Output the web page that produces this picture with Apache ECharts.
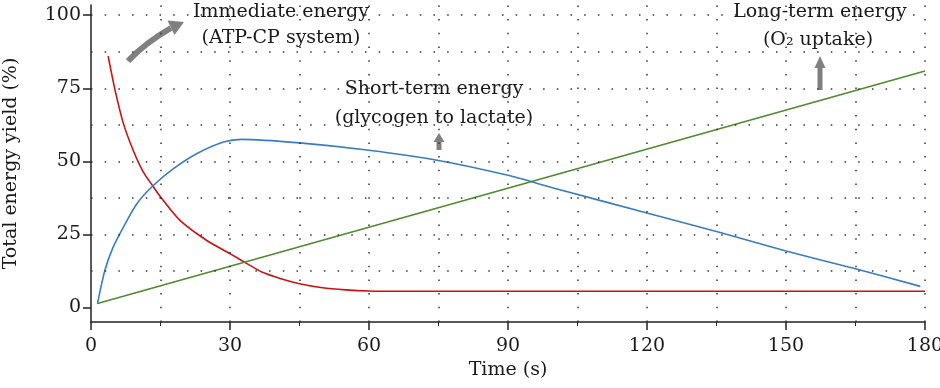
<!DOCTYPE html>
<html>
<head>
<meta charset="utf-8">
<script src="https://cdn.jsdelivr.net/npm/echarts@6/dist/echarts.min.js"></script>
<style>
html,body{margin:0;padding:0;background:#fff;}
#chart{width:940px;height:388px;}
</style>
</head>
<body>
<div id="chart"></div>
<script>
// ---- data ----
const xTicks = [0, 30, 60, 90, 120, 150, 180];
const yTicks = [0, 25, 50, 75, 100];
const gridX = [15, 30, 45, 60, 75, 90, 105, 120, 135, 150, 165, 180];
const gridY = [12.5, 25, 37.5, 50, 62.5, 75, 87.5, 100];

const timeImmediate = [3.7, 5.2, 7, 9.1, 11.3, 13.5, 15.3, 19.2, 25, 30, 34.3, 37, 41, 45, 50, 55, 60, 66, 80, 120, 180];
const energyImmediate = [86, 74.3, 62.9, 53.8, 46.3, 41.2, 37.2, 29.8, 22.9, 18.4, 14.4, 12, 9.8, 8.1, 6.7, 6.0, 5.6, 5.5, 5.5, 5.5, 5.5];

const timeShort = [1.4, 3, 4.8, 7, 9.9, 13.5, 17.8, 22.8, 28.6, 32.5, 45, 60, 75, 90, 100, 120, 135, 150, 165, 179];
const energyShort = [1.3, 12.7, 20.7, 27.5, 35.5, 41.8, 47.5, 52.6, 56.6, 57.5, 56.3, 53.8, 50.3, 45.2, 40.8, 32.3, 26, 19.3, 13.2, 7.2];

const timeLong = [1.4, 180];
const energyLong = [1.3, 80.9];

const labelsImmediate = ['Immediate energy', '(ATP-CP system)'];
const labelsShort = ['Short-term energy', '(glycogen to lactate)'];
const labelsLong = ['Long-term energy', '(O\u2082 uptake)'];

// ---- chart ----
const FONT = 'DejaVu Serif';
const TXT = '#1a1a1a';
const pair = (xs, ys) => xs.map((x, i) => [x, ys[i]]);

const chart = echarts.init(document.getElementById('chart'), null, {renderer: 'canvas'});

const dotStyle = {color: '#333', width: 1.5, type: [1.5, 12.2], opacity: 1};

function textEl(x, y, t) {
  return {type: 'text', x: x, y: y, silent: true,
    style: {text: t, fill: TXT, font: '19px "' + FONT + '"', textAlign: 'center', textVerticalAlign: 'middle'}};
}

const option = {
  animation: false,
  backgroundColor: '#fff',
  grid: {left: 91, right: 15, top: 5, bottom: 66, containLabel: false, outerBoundsMode: 'none'},
  xAxis: {
    type: 'value', min: 0, max: 180, interval: 30,
    name: 'Time (s)', nameLocation: 'middle', nameGap: 39,
    nameTextStyle: {fontFamily: FONT, fontSize: 19, color: TXT},
    axisLine: {show: true, onZero: false, lineStyle: {color: '#222', width: 1.5}},
    axisTick: {show: true, length: 8, lineStyle: {color: '#222', width: 1.5}},
    minorTick: {show: true, splitNumber: 2, length: 4, lineStyle: {color: '#222', width: 1}},
    axisLabel: {fontFamily: FONT, fontSize: 19, color: TXT, margin: 15, customValues: xTicks},
    splitLine: {show: false}
  },
  yAxis: {
    type: 'value', min: -5, max: 103.5,
    name: 'Total energy yield (%)', nameLocation: 'middle', nameGap: 70,
    nameTextStyle: {fontFamily: FONT, fontSize: 19, color: TXT},
    axisLine: {show: true, onZero: false, lineStyle: {color: '#222', width: 1.5}},
    axisTick: {show: true, length: 8, customValues: yTicks, lineStyle: {color: '#222', width: 1.5}},
    axisLabel: {fontFamily: FONT, fontSize: 19, color: TXT, margin: 10, customValues: yTicks},
    splitLine: {show: false}
  },
  series: [
    {
      type: 'line', name: 'grid', data: [], silent: true, z: 1,
      markLine: {
        silent: true, symbol: ['none', 'none'], label: {show: false}, animation: false,
        lineStyle: dotStyle,
        data: gridX.map(v => ({xAxis: v})).concat(gridY.map(v => ({yAxis: v})))
      }
    },
    {
      type: 'line', name: 'Immediate', data: pair(timeImmediate, energyImmediate),
      showSymbol: false, smooth: 0.25, z: 3,
      lineStyle: {color: '#cc1111', width: 1.6}
    },
    {
      type: 'line', name: 'Short', data: pair(timeShort, energyShort),
      showSymbol: false, smooth: 0.25, z: 3,
      lineStyle: {color: '#3a7cc2', width: 1.6}
    },
    {
      type: 'line', name: 'Long', data: pair(timeLong, energyLong),
      showSymbol: false, z: 3,
      lineStyle: {color: '#4f8a2e', width: 1.6}
    }
  ],
  graphic: [
    textEl(281, 12, labelsImmediate[0]),
    textEl(281, 38, labelsImmediate[1]),
    textEl(434, 89, labelsShort[0]),
    textEl(434, 118, labelsShort[1]),
    textEl(820, 12, labelsLong[0]),
    textEl(818, 40, labelsLong[1]),
    // curved arrow (immediate energy)
    {type: 'bezierCurve', silent: true,
      shape: {x1: 128, y1: 61, cpx1: 145, cpy1: 43, x2: 171, y2: 28},
      style: {stroke: '#808080', lineWidth: 6, fill: null}},
    {type: 'polygon', silent: true,
      shape: {points: [[184, 22], [174.5, 35], [167.5, 20.5]]},
      style: {fill: '#808080'}},
    // short-term arrow
    {type: 'rect', silent: true, shape: {x: 436.5, y: 141, width: 5, height: 9}, style: {fill: '#808080'}},
    {type: 'polygon', silent: true, shape: {points: [[439, 133], [433.5, 142], [444.5, 142]]}, style: {fill: '#808080'}},
    // long-term arrow
    {type: 'rect', silent: true, shape: {x: 817.5, y: 67, width: 5, height: 23}, style: {fill: '#808080'}},
    {type: 'polygon', silent: true, shape: {points: [[820, 56], [814.5, 68], [825.5, 68]]}, style: {fill: '#808080'}}
  ]
};
chart.setOption(option);
</script>
</body>
</html>
